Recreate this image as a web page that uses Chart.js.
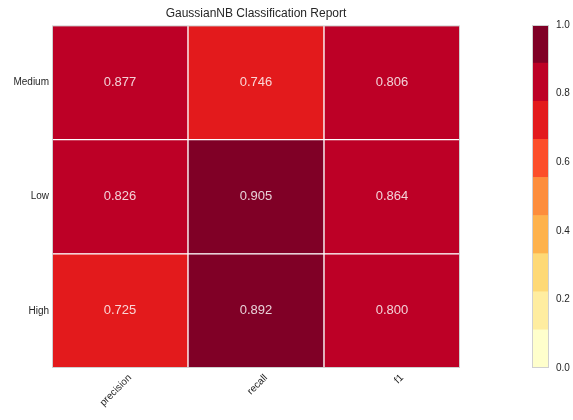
<!DOCTYPE html>
<html>
<head>
<meta charset="utf-8">
<script src="https://cdn.jsdelivr.net/npm/chart.js@4"></script>
<style>
  body { margin: 0; background: #fff; }
  #wrap { position: relative; width: 573px; height: 420px; }
  #heat { position: absolute; left: 0; top: 0; }
  #bar { position: absolute; left: 520px; top: 0; }
</style>
</head>
<body>
<div id="wrap">
  <canvas id="heat" width="520" height="420"></canvas>
  <canvas id="bar" width="53" height="420"></canvas>
</div>
<script>
// dados do relatorio
const metricas = ['precision', 'recall', 'f1'];
const classes = ['High', 'Low', 'Medium']; // de baixo para cima
const valoresHigh = [0.725, 0.892, 0.800];
const valoresLow = [0.826, 0.905, 0.864];
const valoresMedium = [0.877, 0.746, 0.806];
const ticksBarra = [0, 0.2, 0.4, 0.6, 0.8, 1.0];
// YlOrRd, 9 niveis
const paleta = ['#ffffcc', '#ffeda0', '#fed976', '#feb24c', '#fd8d3c', '#fc4e2a', '#e31a1c', '#bd0026', '#800026'];

const fonte = "'Liberation Sans', Arial, sans-serif";
Chart.defaults.font.family = fonte;
Chart.defaults.color = '#262626';

function corDoValor(v){
  let i = Math.floor(v * paleta.length);
  if (i >= paleta.length) i = paleta.length - 1;
  return paleta[i];
}

// moldura cinza em volta da area
const moldura = {
  id: 'moldura',
  afterDatasetsDraw(chart){
    const a = chart.chartArea, c = chart.ctx;
    c.save();
    c.strokeStyle = '#d0d0d0';
    c.lineWidth = 1;
    c.strokeRect(a.left + 0.5, a.top + 0.5, a.right - a.left - 1, a.bottom - a.top - 1);
    c.restore();
  }
};

// escreve o valor no meio de cada celula
const textoCelula = {
  id: 'textoCelula',
  afterDatasetsDraw(chart){
    const c = chart.ctx;
    c.save();
    c.font = '13px ' + fonte;
    c.fillStyle = 'rgba(255,255,255,0.82)';
    c.textAlign = 'center';
    c.textBaseline = 'middle';
    chart.data.datasets.forEach((ds, di) => {
      chart.getDatasetMeta(di).data.forEach((el, i) => {
        c.fillText(ds.valores[i].toFixed(3), el.x, (el.y + el.base) / 2);
      });
    });
    c.restore();
  }
};

const linhas = [valoresHigh, valoresLow, valoresMedium];

new Chart(document.getElementById('heat'), {
  type: 'bar',
  data: {
    labels: metricas,
    datasets: linhas.map((vals, k) => ({
      label: classes[k],
      valores: vals,
      data: vals.map(() => 1),
      backgroundColor: vals.map(corDoValor),
      borderColor: '#ffffff',
      borderWidth: 1,
      borderSkipped: false,
      barPercentage: 1,
      categoryPercentage: 1,
    }))
  },
  options: {
    responsive: false,
    animation: false,
    layout: { padding: { left: 0, right: 60, top: 0, bottom: 0 } },
    plugins: {
      legend: { display: false },
      tooltip: { enabled: false },
      title: {
        display: true,
        fullSize: false,
        text: 'GaussianNB Classification Report',
        color: '#262626',
        font: { size: 12, weight: 'normal' },
        padding: { top: 6, bottom: 5 }
      }
    },
    scales: {
      x: {
        stacked: true,
        grid: { display: false, drawTicks: false },
        border: { display: false },
        ticks: { minRotation: 45, maxRotation: 45, font: { size: 10 }, padding: 4, labelOffset: 10 },
        afterFit(scale){ scale.height = 52; }
      },
      y: {
        stacked: true,
        min: 0,
        max: 3,
        grid: { display: false, drawTicks: false },
        border: { display: false },
        afterBuildTicks(scale){ scale.ticks = [{value: 0.5}, {value: 1.5}, {value: 2.5}]; },
        ticks: {
          font: { size: 10 },
          padding: 3,
          callback: (v) => classes[Math.floor(v)]
        },
        afterFit(scale){ scale.width = 52; }
      }
    }
  },
  plugins: [textoCelula, moldura]
});

// barra de cores
new Chart(document.getElementById('bar'), {
  type: 'bar',
  data: {
    labels: [''],
    datasets: paleta.map((cor) => ({
      data: [1 / paleta.length],
      backgroundColor: cor,
      borderWidth: 0,
      barPercentage: 1,
      categoryPercentage: 1,
    }))
  },
  options: {
    responsive: false,
    animation: false,
    layout: { padding: { left: 12, right: 0, top: 25, bottom: 52 } },
    plugins: { legend: { display: false }, tooltip: { enabled: false } },
    scales: {
      x: { stacked: true, display: false },
      y: {
        stacked: true,
        position: 'right',
        min: 0,
        max: 1,
        grid: { display: false, drawTicks: false },
        border: { display: false },
        afterBuildTicks(scale){ scale.ticks = ticksBarra.map(v => ({value: v})); },
        ticks: { font: { size: 10 }, padding: 7, callback: (v) => v.toFixed(1) },
        afterFit(scale){ scale.width = 24; }
      }
    }
  },
  plugins: [moldura]
});
</script>
</body>
</html>
